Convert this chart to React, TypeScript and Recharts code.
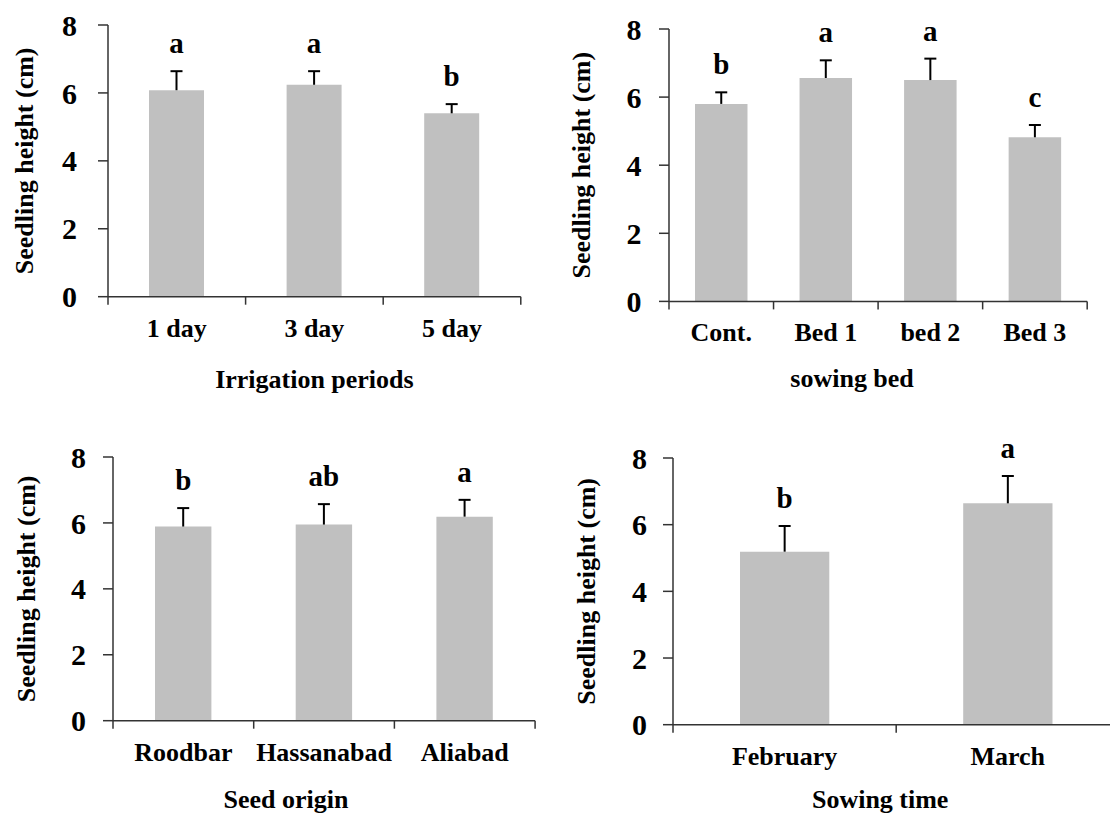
import React from 'react';
import { BarChart, Bar, XAxis, YAxis, LabelList, Label } from 'recharts';

// ---- data ----
const yTicks = [0, 2, 4, 6, 8];

const irrigationCats = ['1 day', '3 day', '5 day'];
const irrigationMeans = [6.08, 6.24, 5.4];
const irrigationErr = [0.56, 0.4, 0.27];
const irrigationLetters = ['a', 'a', 'b'];

const bedCats = ['Cont.', 'Bed 1', 'bed 2', 'Bed 3'];
const bedMeans = [5.8, 6.56, 6.5, 4.82];
const bedErr = [0.34, 0.52, 0.63, 0.36];
const bedLetters = ['b', 'a', 'a', 'c'];

const originCats = ['Roodbar', 'Hassanabad', 'Aliabad'];
const originMeans = [5.89, 5.95, 6.19];
const originErr = [0.56, 0.62, 0.51];
const originLetters = ['b', 'ab', 'a'];

const timeCats = ['February', 'March'];
const timeMeans = [5.19, 6.64];
const timeErr = [0.77, 0.82];
const timeLetters = ['b', 'a'];

// ---- styling ----
const FONT = "'Liberation Serif', 'Times New Roman', Times, serif";
const INK = '#000';
const AXIS = '#333';
const BAR = '#c0c0c0';

type Row = { name: string; mean: number; sd: number; letter: string };

const rows = (cats: string[], means: number[], errs: number[], letters: string[]): Row[] =>
  cats.map((c, i) => ({ name: c, mean: means[i], sd: errs[i], letter: letters[i] }));

// upper-only error whisker drawn on the stacked "sd" segment
function ErrorT(props: any) {
  const { x, y, width, height } = props;
  if (x == null || y == null) return null;
  const cx = x + width / 2;
  return (
    <g>
      <line x1={cx} x2={cx} y1={y} y2={y + height} stroke={INK} strokeWidth={2} />
      <line x1={cx - 6} x2={cx + 6} y1={y} y2={y} stroke={INK} strokeWidth={2} />
    </g>
  );
}

// category label plus Excel-style ticks on the band edges
const catTick = (band: number, count: number) => (props: any) => {
  const { x, y, payload, index } = props;
  const left = x - band / 2;
  const right = x + band / 2;
  return (
    <g>
      <line x1={left} x2={left} y1={y} y2={y + 8} stroke={AXIS} strokeWidth={1.5} />
      {index === count - 1 && (
        <line x1={right} x2={right} y1={y} y2={y + 8} stroke={AXIS} strokeWidth={1.5} />
      )}
      <text
        x={x}
        y={y + 40}
        textAnchor="middle"
        fill={INK}
        fontSize={26}
        fontWeight={700}
        fontFamily={FONT}
      >
        {payload.value}
      </text>
    </g>
  );
};

interface PanelLayout {
  plotLeft: number;
  plotRight: number;
  plotTop: number;
  plotBottom: number;
  barSize: number;
  tickGap: number;
  yTitleGap: number;
  xTitleDx: number;
  xTitleDy: number;
}

const Y_AXIS_W = 120;
const X_AXIS_H = 100;
const M_TOP = 45;
const M_RIGHT = 20;

function Panel({ data, title, lay }: { data: Row[]; title: string; lay: PanelLayout }) {
  const plotW = lay.plotRight - lay.plotLeft;
  const plotH = lay.plotBottom - lay.plotTop;
  const width = Y_AXIS_W + plotW + M_RIGHT;
  const height = M_TOP + plotH + X_AXIS_H;
  const band = plotW / data.length;

  const yTitle = (p: any) => {
    const vb = p.viewBox;
    if (!vb) return null;
    const cx = vb.x + vb.width - lay.yTitleGap;
    const cy = vb.y + vb.height / 2;
    return (
      <text
        x={cx}
        y={cy}
        dy="0.35em"
        transform={`rotate(-90 ${cx} ${cy})`}
        textAnchor="middle"
        fill={INK}
        fontSize={26}
        fontWeight={700}
        fontFamily={FONT}
      >
        Seedling height (cm)
      </text>
    );
  };

  const xTitle = (p: any) => {
    const vb = p.viewBox;
    if (!vb) return null;
    return (
      <text
        x={vb.x + vb.width / 2 + lay.xTitleDx}
        y={vb.y + lay.xTitleDy}
        textAnchor="middle"
        fill={INK}
        fontSize={26}
        fontWeight={700}
        fontFamily={FONT}
      >
        {title}
      </text>
    );
  };

  return (
    <div
      style={{
        position: 'absolute',
        left: lay.plotLeft - Y_AXIS_W,
        top: lay.plotTop - M_TOP,
        width,
        height,
      }}
    >
      <BarChart
        width={width}
        height={height}
        data={data}
        margin={{ top: M_TOP, right: M_RIGHT, bottom: 0, left: 0 }}
        barSize={lay.barSize}
      >
        <XAxis
          dataKey="name"
          type="category"
          height={X_AXIS_H}
          interval={0}
          tickLine={false}
          tickSize={0}
          tickMargin={0}
          axisLine={{ stroke: AXIS, strokeWidth: 1.5 }}
          tick={catTick(band, data.length)}
        >
          <Label content={xTitle} />
        </XAxis>
        <YAxis
          type="number"
          domain={[0, 8]}
          ticks={yTicks}
          interval={0}
          width={Y_AXIS_W}
          tickSize={10}
          tickMargin={lay.tickGap}
          axisLine={{ stroke: AXIS, strokeWidth: 1.5 }}
          tickLine={{ stroke: AXIS, strokeWidth: 1.5 }}
          tick={{ fill: INK, fontSize: 30, fontWeight: 700, fontFamily: FONT }}
        >
          <Label content={yTitle} />
        </YAxis>
        <Bar dataKey="mean" stackId="s" fill={BAR} isAnimationActive={false} />
        <Bar dataKey="sd" stackId="s" shape={ErrorT} isAnimationActive={false}>
          <LabelList
            dataKey="letter"
            position="top"
            offset={18}
            fill={INK}
            fontSize={29}
            fontWeight={700}
            fontFamily={FONT}
          />
        </Bar>
      </BarChart>
    </div>
  );
}

const layIrrigation: PanelLayout = {
  plotLeft: 107.9, plotRight: 520.7, plotTop: 25, plotBottom: 296.7,
  barSize: 55, tickGap: 21, yTitleGap: 83.6, xTitleDx: 0, xTitleDy: 91,
};
const layBed: PanelLayout = {
  plotLeft: 668.6, plotRight: 1086.8, plotTop: 29.3, plotBottom: 301.7,
  barSize: 52.5, tickGap: 17.6, yTitleGap: 88, xTitleDx: -26, xTitleDy: 86,
};
const layOrigin: PanelLayout = {
  plotLeft: 112.9, plotRight: 535, plotTop: 457.3, plotBottom: 721,
  barSize: 56.4, tickGap: 17, yTitleGap: 87, xTitleDx: -38, xTitleDy: 87,
};
const layTime: PanelLayout = {
  plotLeft: 672.5, plotRight: 1118.9, plotTop: 458.3, plotBottom: 725,
  barSize: 89.3, tickGap: 16, yTitleGap: 87, xTitleDx: -16, xTitleDy: 83,
};

export default function App() {
  return (
    <div
      style={{
        position: 'absolute',
        left: 0,
        top: 0,
        width: 1110,
        height: 815,
        overflow: 'hidden',
        background: '#fff',
      }}
    >
      <Panel
        data={rows(irrigationCats, irrigationMeans, irrigationErr, irrigationLetters)}
        title="Irrigation periods"
        lay={layIrrigation}
      />
      <Panel data={rows(bedCats, bedMeans, bedErr, bedLetters)} title="sowing bed" lay={layBed} />
      <Panel
        data={rows(originCats, originMeans, originErr, originLetters)}
        title="Seed origin"
        lay={layOrigin}
      />
      <Panel data={rows(timeCats, timeMeans, timeErr, timeLetters)} title="Sowing time" lay={layTime} />
    </div>
  );
}
